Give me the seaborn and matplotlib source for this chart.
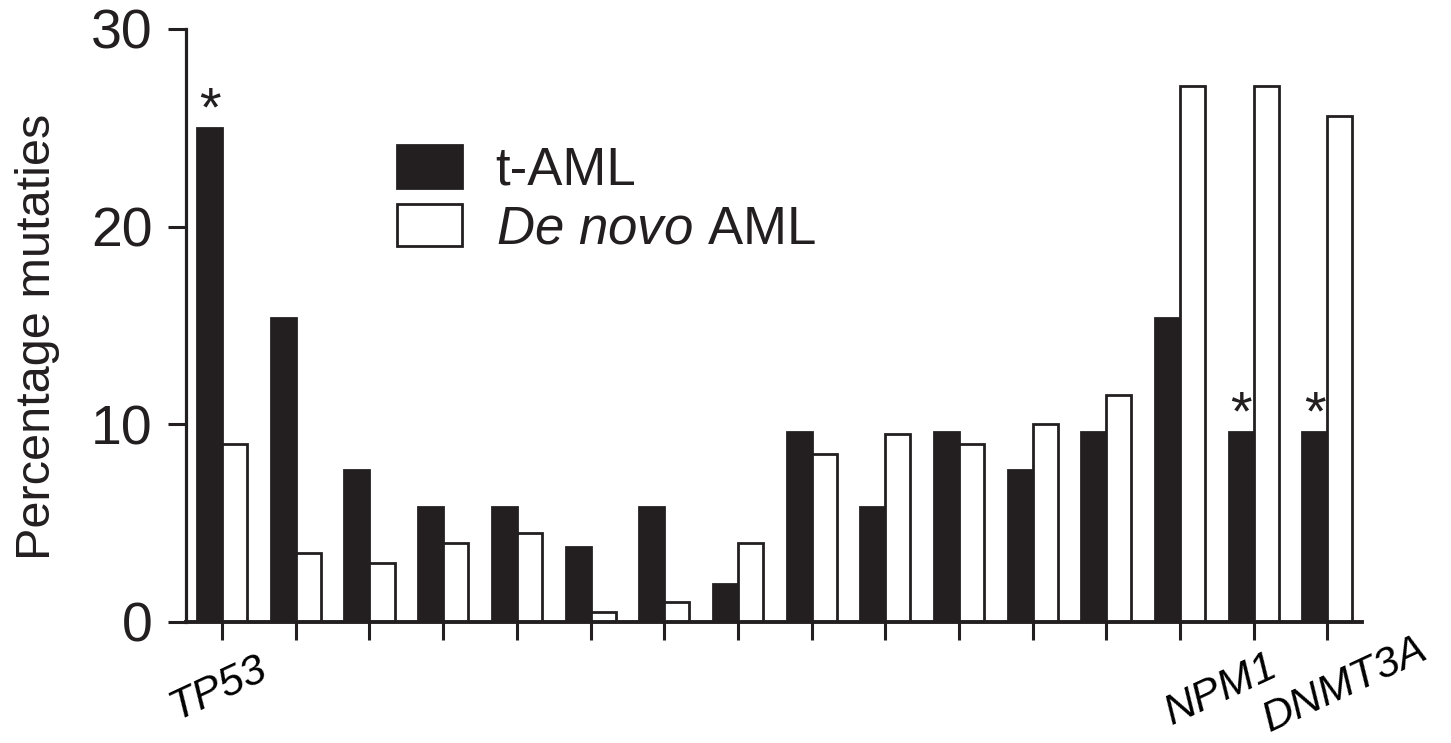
import matplotlib
matplotlib.use("Agg")
import matplotlib.pyplot as plt
import seaborn as sns
import pandas as pd
from matplotlib.patches import Patch

# ---- data ----
n_genes = 16
tick_labels = ["TP53"] + [""] * 13 + ["NPM1", "DNMT3A"]
t_aml = [25.0, 15.4, 7.7, 5.8, 5.8, 3.8, 5.8, 1.9, 9.6, 5.8, 9.6, 7.7, 9.6, 15.4, 9.6, 9.6]
de_novo = [9.0, 3.5, 3.0, 4.0, 4.5, 0.5, 1.0, 4.0, 8.5, 9.5, 9.0, 10.0, 11.5, 27.1, 27.1, 25.6]
significant = [True] + [False] * 13 + [True, True]
series_names = ["t-AML", "De novo AML"]
y_ticks = [0, 10, 20, 30]

INK = "#231f20"

sns.set_theme(style="ticks")
plt.rcParams["font.family"] = ["Liberation Sans", "DejaVu Sans"]
plt.rcParams["mathtext.fontset"] = "custom"
plt.rcParams["mathtext.rm"] = "Liberation Sans"
plt.rcParams["mathtext.it"] = "Liberation Sans:italic"

gene_ids = [f"g{i:02d}" for i in range(n_genes)]
df = pd.DataFrame({
    "gene": gene_ids * 2,
    "value": t_aml + de_novo,
    "group": [series_names[0]] * n_genes + [series_names[1]] * n_genes,
})

fig = plt.figure(figsize=(14.51, 7.43), dpi=100)
ax = fig.add_axes([0.1282, 0.1629, 0.8105, 0.7981])

sns.barplot(data=df, x="gene", y="value", hue="group", order=gene_ids,
            hue_order=series_names, palette=[INK, "white"], width=0.68,
            edgecolor=INK, linewidth=2.0, saturation=1, errorbar=None,
            gap=0, ax=ax, legend=False)

ax.set_xlim(-0.49, 15.47)
ax.set_ylim(0, 30)
ax.set_yticks(y_ticks)
ax.set_yticklabels([str(v) for v in y_ticks], fontsize=40, color=INK)
ax.set_xticks(range(n_genes))
ax.set_xticklabels([""] * n_genes)
for s in ["top", "right"]:
    ax.spines[s].set_visible(False)
ax.spines["left"].set_linewidth(2.3)
ax.spines["bottom"].set_linewidth(2.8)
ax.spines["left"].set_color(INK)
ax.spines["bottom"].set_color(INK)
ax.tick_params(axis="both", direction="out", length=13, width=2.2, color=INK,
               bottom=True, left=True)
ax.tick_params(axis="y", pad=11)
ax.set_xlabel("")
ax.set_ylabel("Percentage mutaties", fontsize=35, color=INK)
ax.yaxis.set_label_coords(-0.107, 0.48)

# gene labels (rotated, italic)
label_offsets = {
    "TP53": (-4, -66),
    "NPM1": (-33, -68),
    "DNMT3A": (18, -63),
}
for i, lab in enumerate(tick_labels):
    if lab:
        dx, dy = label_offsets[lab]
        ax.annotate(lab, xy=(i, 0), xycoords=("data", "axes fraction"),
                    xytext=(dx / 1.389, dy / 1.389), textcoords="offset points",
                    ha="center", va="center", rotation=25, fontsize=31,
                    style="italic", color="black")

# significance asterisks
for i, (v, sig) in enumerate(zip(t_aml, significant)):
    if sig:
        ax.annotate("*", xy=(i - 0.17, v), xytext=(0, -7), textcoords="offset points",
                    ha="center", va="bottom", fontsize=40, color=INK)

# legend
handles = [Patch(facecolor=INK, edgecolor=INK, linewidth=2),
           Patch(facecolor="white", edgecolor=INK, linewidth=2)]
labels = ["t-AML", r"$\it{De\ novo}$ AML"]
fig.legend(handles, labels, loc="upper left", bbox_to_anchor=(397 / 1451, 1 - 145 / 743),
           frameon=False, fontsize=38, handlelength=1.23, handleheight=0.87,
           handletextpad=0.64, labelspacing=0.15, borderpad=0, borderaxespad=0,
           labelcolor=INK)

fig.savefig("out.png", dpi=100)
